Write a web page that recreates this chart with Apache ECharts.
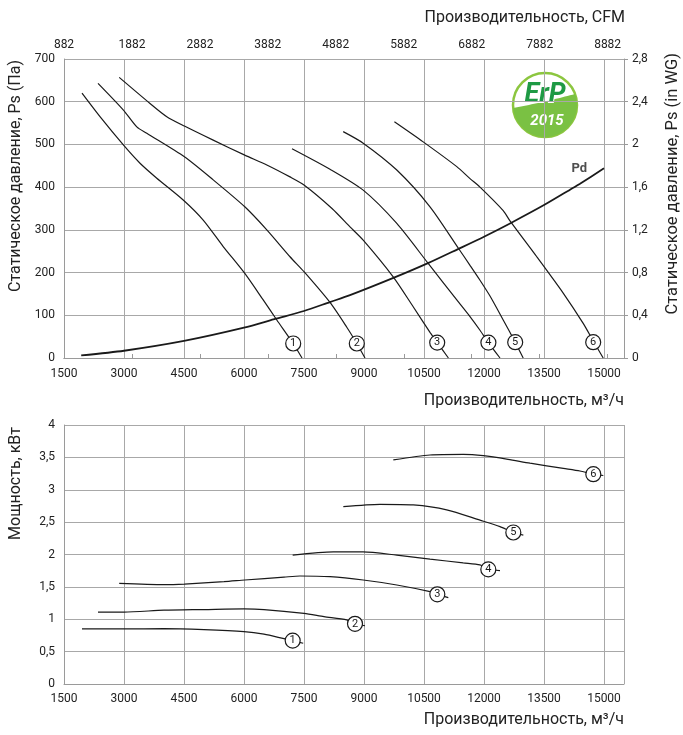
<!DOCTYPE html>
<html><head><meta charset="utf-8">
<script src="https://cdn.jsdelivr.net/npm/echarts@6/dist/echarts.min.js"></script>
<style>html,body{margin:0;padding:0;background:#fff}#c{width:683px;height:735px}</style>
</head><body><div id="c"></div><script>
// ---- data (top chart: static pressure, Pa) ----
const curve1Q  = [1950, 2400, 3000, 3400, 3820, 4480, 4980, 5480, 6020, 6480, 6820, 7230, 7450];
const curve1Ps = [620, 565, 497, 456, 421, 370, 323, 261, 198, 136, 89, 34, 0];
const curve2Q  = [2350, 2980, 3320, 3570, 4510, 5230, 6020, 6570, 7150, 7500, 8150, 8570, 8820, 9025];
const curve2Ps = [643, 581, 541, 526, 471, 417, 354, 300, 237, 202, 130, 72, 34, 0];
const curve3Q  = [2880, 3650, 4070, 4510, 5230, 6020, 6570, 7150, 7500, 8200, 8650, 8980, 9730, 10230, 10650, 10830, 11110];
const curve3Ps = [657, 596, 565, 543, 510, 475, 452, 424, 405, 350, 307, 276, 190, 120, 60, 36, 0];
const curve4Q  = [7200, 8150, 8980, 9820, 10600, 11320, 11650, 11900, 12110, 12400];
const curve4Ps = [490, 442, 393, 315, 222, 136, 97, 65, 36, 0];
const curve5Q  = [8480, 8980, 9820, 10650, 11360, 11650, 11900, 12150, 12480, 12780, 12980];
const curve5Ps = [530, 503, 440, 354, 257, 217, 182, 145, 89, 37, 0];
const curve6Q  = [9760, 10480, 11320, 11650, 11900, 12480, 12650, 13320, 13980, 14480, 14730, 14980];
const curve6Ps = [553, 506, 448, 420, 400, 345, 321, 237, 152, 81, 40, 0];
const pdQ  = [1930, 3000, 4500, 6000, 6800, 7500, 8150, 8650, 9750, 10600, 11350, 12000, 12650, 13500, 14150, 14400, 15000];
const pdPa = [6, 17, 40, 71, 92, 110, 131, 147, 188, 222, 255, 284, 315, 358, 394, 408, 444];
const curveNames = ['1', '2', '3', '4', '5', '6'];
const tagTopQ  = [7230, 8820, 10830, 12110, 12780, 14730];
const tagTopPs = [34, 34, 36, 36, 37, 37];

// ---- data (bottom chart: power, kW) ----
const pow1Q = [1950, 3000, 4000, 5000, 6000, 6500, 7000, 7217, 7480];
const pow1  = [0.85, 0.85, 0.855, 0.84, 0.81, 0.77, 0.70, 0.67, 0.63];
const pow2Q = [2350, 3000, 4000, 5000, 6000, 6500, 7500, 8000, 8570, 8775, 9025];
const pow2  = [1.11, 1.11, 1.14, 1.15, 1.16, 1.15, 1.09, 1.04, 0.99, 0.93, 0.90];
const pow3Q = [2880, 4000, 4510, 5500, 6020, 7000, 7400, 8150, 8980, 9820, 10650, 10833, 11108];
const pow3  = [1.555, 1.535, 1.544, 1.58, 1.606, 1.65, 1.668, 1.657, 1.606, 1.529, 1.426, 1.385, 1.333];
const pow4Q = [7217, 8233, 8980, 9820, 10650, 11480, 11900, 12108, 12400];
const pow4  = [1.99, 2.04, 2.04, 1.99, 1.93, 1.87, 1.84, 1.78, 1.75];
const pow5Q = [8483, 9400, 10233, 11067, 11900, 12400, 12733, 12983];
const pow5  = [2.74, 2.775, 2.765, 2.69, 2.53, 2.43, 2.34, 2.30];
const pow6Q = [9733, 10650, 11483, 11983, 12600, 13150, 13983, 14400, 14733, 14983];
const pow6  = [3.46, 3.537, 3.547, 3.526, 3.47, 3.41, 3.33, 3.29, 3.24, 3.22];
const tagBotQ = [7217, 8775, 10833, 12108, 12733, 14733];
const tagBotP = [0.67, 0.93, 1.385, 1.77, 2.34, 3.24];

// ---- styling ----
const FONT = 'Roboto, sans-serif';
const TXT = '#222';
const GRID = '#a8a8a8';
const AX = '#9a9a9a';
const zip = (a, b) => a.map((v, i) => [v, b[i]]);
const plain = v => String(Math.round(v));
const comma = v => String(+(+v).toFixed(2)).replace('.', ',');

const topCurves = [[curve1Q, curve1Ps], [curve2Q, curve2Ps], [curve3Q, curve3Ps], [curve4Q, curve4Ps], [curve5Q, curve5Ps], [curve6Q, curve6Ps]];
const botCurves = [[pow1Q, pow1], [pow2Q, pow2], [pow3Q, pow3], [pow4Q, pow4], [pow5Q, pow5], [pow6Q, pow6]];

const lineSeries = (xi, yi, q, v, w) => ({
  type: 'line', xAxisIndex: xi, yAxisIndex: yi, data: zip(q, v), showSymbol: false, symbol: 'none',
  smooth: 0.25, silent: true, z: 3, lineStyle: { color: '#1a1a1a', width: w }
});
const tagSeries = (xi, yi, q, v) => ({
  type: 'scatter', xAxisIndex: xi, yAxisIndex: yi, silent: true, z: 6,
  data: q.map((x, i) => [x, v[i], curveNames[i]]),
  symbol: 'circle', symbolSize: 15,
  itemStyle: { color: '#fff', borderColor: '#1a1a1a', borderWidth: 1.2, opacity: 1 },
  label: { show: true, position: 'inside', formatter: p => p.value[2], color: '#1a1a1a', fontSize: 11, fontFamily: FONT }
});

const labelStyle = { color: TXT, fontSize: 12, fontFamily: FONT };
const nameStyle = { color: TXT, fontSize: 16, fontFamily: FONT };

// logo leaf shape (decorative)
const leaf = [];
for (let k = 0; k <= 24; k++) { const t = k / 24; leaf.push([(1 - t) * (1 - t) * -31.9 + t * t * 30, (1 - t) * (1 - t) * 3 + 2 * (1 - t) * t * -3 + t * t * -11]); }
const a0 = Math.atan2(-11, 30), a1 = Math.atan2(3, -31.9);
for (let k = 1; k < 40; k++) { const a = a0 + (a1 - a0) * k / 40; leaf.push([32 * Math.cos(a), 32 * Math.sin(a)]); }

const option = {
  animation: false,
  backgroundColor: '#fff',
  textStyle: { fontFamily: FONT },
  grid: [
    { left: 64, top: 59, width: 560, height: 299 },
    { left: 64, top: 425, width: 560, height: 259 }
  ],
  xAxis: [
    { gridIndex: 0, type: 'value', position: 'bottom', min: 1500, max: 15500, interval: 1500,
      axisLine: { show: true, lineStyle: { color: AX } }, axisTick: { show: false },
      axisLabel: Object.assign({ showMaxLabel: false, margin: 10, formatter: plain }, labelStyle),
      splitLine: { show: true, lineStyle: { color: GRID } },
      name: 'Производительность, м³/ч', nameLocation: 'end', nameGap: 0,
      nameTextStyle: Object.assign({ align: 'right', verticalAlign: 'top', padding: [35, 0, 0, 0] }, nameStyle) },
    { gridIndex: 0, type: 'value', position: 'top', min: 882, max: 9123, interval: 1000,
      axisLine: { show: true, lineStyle: { color: AX } }, axisTick: { show: true, length: 4, lineStyle: { color: AX } },
      axisLabel: Object.assign({ showMaxLabel: false, margin: 8, formatter: plain }, labelStyle),
      splitLine: { show: false } },
    { gridIndex: 1, type: 'value', position: 'bottom', min: 1500, max: 15500, interval: 1500,
      axisLine: { show: true, lineStyle: { color: AX } }, axisTick: { show: false },
      axisLabel: Object.assign({ showMaxLabel: false, margin: 9, formatter: plain }, labelStyle),
      splitLine: { show: true, lineStyle: { color: GRID } },
      name: 'Производительность, м³/ч', nameLocation: 'end', nameGap: 0,
      nameTextStyle: Object.assign({ align: 'right', verticalAlign: 'top', padding: [28, 0, 0, 0] }, nameStyle) }
  ],
  yAxis: [
    { gridIndex: 0, type: 'value', position: 'left', min: 0, max: 700, interval: 100,
      axisLine: { show: true, lineStyle: { color: AX } }, axisTick: { show: false },
      axisLabel: Object.assign({ margin: 9 }, labelStyle),
      splitLine: { show: true, lineStyle: { color: GRID } } },
    { gridIndex: 0, type: 'value', position: 'right', min: 0, max: 2.8, interval: 0.4,
      axisLine: { show: true, lineStyle: { color: AX } }, axisTick: { show: true, length: 4, lineStyle: { color: AX } },
      axisLabel: Object.assign({ margin: 8, formatter: comma }, labelStyle),
      splitLine: { show: false } },
    { gridIndex: 1, type: 'value', position: 'left', min: 0, max: 4, interval: 0.5,
      axisLine: { show: true, lineStyle: { color: AX } }, axisTick: { show: false },
      axisLabel: Object.assign({ margin: 9, formatter: comma }, labelStyle),
      splitLine: { show: true, lineStyle: { color: GRID } } }
  ],
  series: [
    ...topCurves.map(c => lineSeries(0, 0, c[0], c[1], 1.2)),
    lineSeries(0, 0, pdQ, pdPa, 1.8),
    tagSeries(0, 0, tagTopQ, tagTopPs),
    { type: 'scatter', xAxisIndex: 0, yAxisIndex: 0, silent: true, z: 6, symbolSize: 0,
      data: [[pdQ[pdQ.length - 1], pdPa[pdPa.length - 1]]],
      label: { show: true, position: 'left', distance: 17, formatter: 'Pd', color: TXT, fontSize: 13, fontWeight: 'bold', fontFamily: FONT } },
    ...botCurves.map(c => lineSeries(2, 2, c[0], c[1], 1.2)),
    tagSeries(2, 2, tagBotQ, tagBotP)
  ],
  graphic: [
    { type: 'text', x: 625, y: 18, silent: true,
      style: { text: 'Производительность, CFM', x: 0, y: 0, align: 'right', verticalAlign: 'middle', font: '16px ' + FONT, fill: TXT } },
    { type: 'text', x: 16, y: 60, rotation: Math.PI / 2, silent: true,
      style: { text: 'Статическое давление, Ps (Па)', x: 0, y: 0, align: 'right', verticalAlign: 'middle', font: '16px ' + FONT, fill: TXT } },
    { type: 'text', x: 673, y: 53, rotation: Math.PI / 2, silent: true,
      style: { text: 'Статическое давление, Ps (in WG)', x: 0, y: 0, align: 'right', verticalAlign: 'middle', font: '16.5px ' + FONT, fill: TXT } },
    { type: 'text', x: 16, y: 427, rotation: Math.PI / 2, silent: true,
      style: { text: 'Мощность, кВт', x: 0, y: 0, align: 'right', verticalAlign: 'middle', font: '16px ' + FONT, fill: TXT } },
    { type: 'group', x: 545, y: 105, silent: true, children: [
      { type: 'circle', shape: { cx: 0, cy: 0, r: 32 }, style: { fill: '#fff', stroke: '#8cc63f', lineWidth: 2.5 } },
      { type: 'polygon', shape: { points: leaf }, style: { fill: '#7ac143' } },
      { type: 'text', style: { text: 'ErP', x: 0, y: -10, align: 'center', verticalAlign: 'middle', font: 'italic bold 27px ' + FONT, fill: '#1e9a44', stroke: '#fff', lineWidth: 2 } },
      { type: 'text', style: { text: '2015', x: 2, y: 16, align: 'center', verticalAlign: 'middle', font: 'italic bold 15px ' + FONT, fill: '#fff' } }
    ] }
  ]
};
const chart = echarts.init(document.getElementById('c'), null, { renderer: 'canvas' });
chart.setOption(option);
</script></body></html>
